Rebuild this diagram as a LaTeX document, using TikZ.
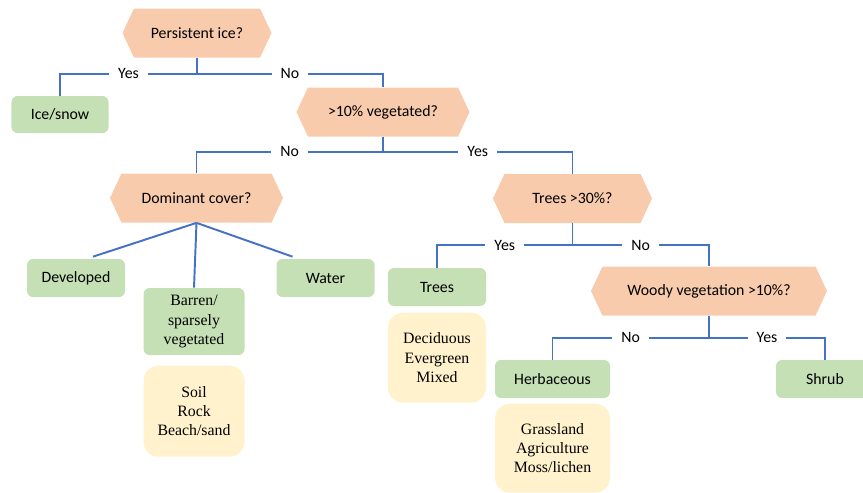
\documentclass[tikz,border=0pt]{standalone}
\usepackage{fontspec}
\setmainfont{Carlito}
\newfontfamily\serifx{Liberation Serif}
\usepackage{tikz}
\usetikzlibrary{shapes.symbols}
\usetikzlibrary{positioning}

\definecolor{peach}{HTML}{F8CBAD}
\definecolor{leaf}{HTML}{C5E0B4}
\definecolor{cream}{HTML}{FFF2CC}
\definecolor{link_blue}{HTML}{4472C4}

\tikzset{
    question/.style={shape=signal, signal to=west and east,
        signal pointer angle=130, fill=peach,
        minimum height=0.98cm, inner sep=0pt,
        font=\fontsize{9}{10.8}\selectfont},
    cover/.style={rounded corners=0.12cm, fill=leaf,
        minimum width=1.96cm, minimum height=0.76cm, align=center,
        font=\fontsize{9}{10.8}\selectfont},
    examples/.style={rounded corners=0.3cm, fill=cream,
        align=center, font=\serifx\fontsize{9}{10.9}\selectfont},
    link/.style={draw=link_blue, line width=1.1pt},
    answer/.style={fill=white, inner xsep=0.18cm, inner ysep=1pt,
        font=\fontsize{9}{10.8}\selectfont},
}

\begin{document}
\begin{tikzpicture}

\useasboundingbox (0,0) rectangle (17.26,-9.84);

% questions
\node [question,
    minimum width=2.98cm
] (persistent_ice) at (3.94,-0.66) {Persistent ice?};

\node [question,
    minimum width=3.46cm
] (vegetated_10) at (7.66,-2.24) {>10\% vegetated?};

\node [question,
    minimum width=3.46cm
] (dominant_cover) at (3.93,-3.96) {Dominant cover?};

\node [question,
    minimum width=3.18cm
] (trees_30) at (11.45,-3.97) {Trees >30\%?};

\node [question,
    minimum width=4.72cm
] (woody_10) at (14.18,-5.82) {Woody vegetation >10\%?};

% classes
\node [cover,
    minimum width=1.94cm,
    minimum height=0.74cm
] (ice_snow) at (1.2,-2.29) {Ice/snow};

\node [cover] (developed) at (1.52,-5.56) {Developed};

\node [cover] (water) at (6.51,-5.56) {Water};

\node [cover,
    minimum width=2.02cm,
    minimum height=1.34cm,
    font=\serifx\fontsize{9}{11}\selectfont
] (barren) at (3.88,-6.43) {Barren/\\sparsely\\vegetated};

\node [examples,
    minimum width=2.02cm,
    minimum height=1.82cm,
    below=0.2cm of barren
] (barren_list) {Soil\\Rock\\Beach/sand};

\node [cover] (trees) at (8.74,-5.74) {Trees};

\node [examples,
    minimum width=1.96cm,
    minimum height=1.8cm,
    below=0.12cm of trees
] (trees_list) {Deciduous\\Evergreen\\Mixed};

\node [cover,
    minimum width=2.3cm
] (herbaceous) at (11.05,-7.58) {Herbaceous};

\node [examples,
    minimum width=2.3cm,
    minimum height=1.78cm,
    below=0.1cm of herbaceous
] (herb_list) {Grassland\\Agriculture\\Moss/lichen};

\node [cover] (shrub) at (16.5,-7.58) {Shrub};

% connectors
\draw [link] (persistent_ice.south) -- ++(0,-0.32) -| node [answer, pos=0.25] {Yes} (ice_snow.north);
\draw [link] (persistent_ice.south) -- ++(0,-0.32) -| node [answer, pos=0.25] {No} (vegetated_10.north);

\draw [link] (vegetated_10.south) -- ++(0,-0.3) -| node [answer, pos=0.25] {No} (dominant_cover.north);
\draw [link] (vegetated_10.south) -- ++(0,-0.3) -| node [answer, pos=0.25] {Yes} (trees_30.north);

\draw [link] (dominant_cover.south) -- ([xshift=0.34cm, yshift=0.04cm]developed.north);
\draw [link] (dominant_cover.south) -- (barren.north);
\draw [link] (dominant_cover.south) -- ([xshift=-0.66cm, yshift=0.04cm]water.north);

\draw [link] (trees_30.south) -- ++(0,-0.44) -| node [answer, pos=0.25] {Yes} (trees.north);
\draw [link] (trees_30.south) -- ++(0,-0.44) -| node [answer, pos=0.25] {No} (woody_10.north);

\draw [link] (woody_10.south) -- ++(0,-0.44) -| node [answer, pos=0.25] {No} (herbaceous.north);
\draw [link] (woody_10.south) -- ++(0,-0.44) -| node [answer, pos=0.25] {Yes} (shrub.north);

\end{tikzpicture}
\end{document}
